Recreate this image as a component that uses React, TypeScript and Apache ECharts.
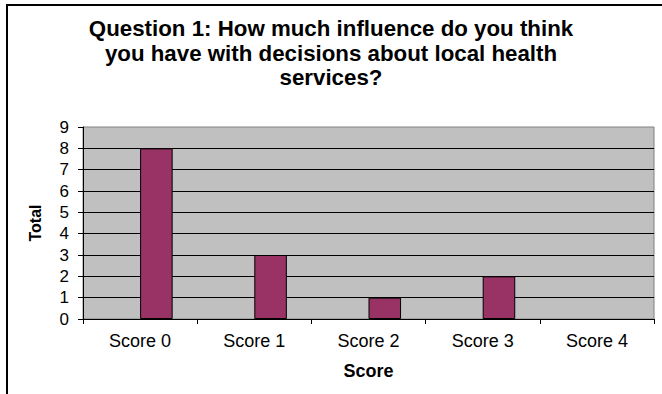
import React, { useEffect, useRef } from "react";
import * as echarts from "echarts";

const titleLines = [
  "Question 1: How much influence do you think",
  "you have with decisions about local health",
  "services?",
];
const categories = ["Score 0", "Score 1", "Score 2", "Score 3", "Score 4"];
const placeholderValues = [0, 0, 0, 0, 0];
const totals = [8, 3, 1, 2, 0];
const yTicks = { min: 0, max: 9, interval: 1 };
const xAxisTitle = "Score";
const yAxisTitle = "Total";

export default function App() {
  const ref = useRef<HTMLDivElement>(null);
  useEffect(() => {
    document.body.style.margin = "0";
    const chart = echarts.init(ref.current!, null, { renderer: "svg" });
    chart.setOption({
      animation: false,
      backgroundColor: "#ffffff",
      textStyle: { fontFamily: "Liberation Sans, Arial, sans-serif" },
      title: {
        text: titleLines.join("\n"),
        left: "center",
        top: 16,
        padding: [0, 0, 0, 10],
        textStyle: {
          fontSize: 22.3,
          fontWeight: "bold",
          color: "#000",
          lineHeight: 24.7,
          fontFamily: "Liberation Sans, Arial, sans-serif",
        },
      },
      graphic: [
        {
          type: "rect",
          shape: { x: 7, y: 5, width: 720, height: 460 },
          style: { fill: "none", stroke: "#000", lineWidth: 2 },
          z: 100,
          silent: true,
        },
      ],
      grid: {
        left: 83,
        top: 127,
        width: 571,
        height: 192,
        show: true,
        backgroundColor: "#C0C0C0",
        borderColor: "#808080",
        borderWidth: 1,
      },
      xAxis: {
        type: "category",
        data: categories,
        name: xAxisTitle,
        nameLocation: "middle",
        nameGap: 43,
        nameTextStyle: { fontSize: 18, fontWeight: "bold", color: "#000" },
        axisLine: { show: true, lineStyle: { color: "#000", width: 1 } },
        axisTick: { show: true, length: 5, alignWithLabel: false, lineStyle: { color: "#000" } },
        axisLabel: { fontSize: 18, color: "#000", margin: 13 },
        splitLine: { show: false },
      },
      yAxis: {
        type: "value",
        min: yTicks.min,
        max: yTicks.max,
        interval: yTicks.interval,
        name: yAxisTitle,
        nameLocation: "middle",
        nameRotate: 90,
        nameGap: 40,
        nameTextStyle: { fontSize: 16, fontWeight: "bold", color: "#000" },
        axisLine: { show: true, lineStyle: { color: "#000", width: 1 } },
        axisTick: { show: true, length: 5, lineStyle: { color: "#000" } },
        axisLabel: { fontSize: 17, color: "#000", margin: 14 },
        splitLine: { show: true, showMaxLine: false, lineStyle: { color: "#000", width: 1 } },
      },
      series: [
        {
          type: "bar",
          data: placeholderValues,
          barGap: 0,
          barCategoryGap: "43%",
          itemStyle: { color: "transparent", borderWidth: 0 },
          silent: true,
        },
        {
          type: "bar",
          data: totals.map((v) =>
            v === 0 ? { value: v, itemStyle: { borderWidth: 0 } } : v
          ),
          barGap: 0,
          barCategoryGap: "43%",
          itemStyle: { color: "#993366", borderColor: "#000", borderWidth: 1 },
        },
      ],
    });
    return () => chart.dispose();
  }, []);
  return (
    <div
      ref={ref}
      style={{ position: "absolute", left: 0, top: 0, width: 662, height: 394 }}
    />
  );
}
